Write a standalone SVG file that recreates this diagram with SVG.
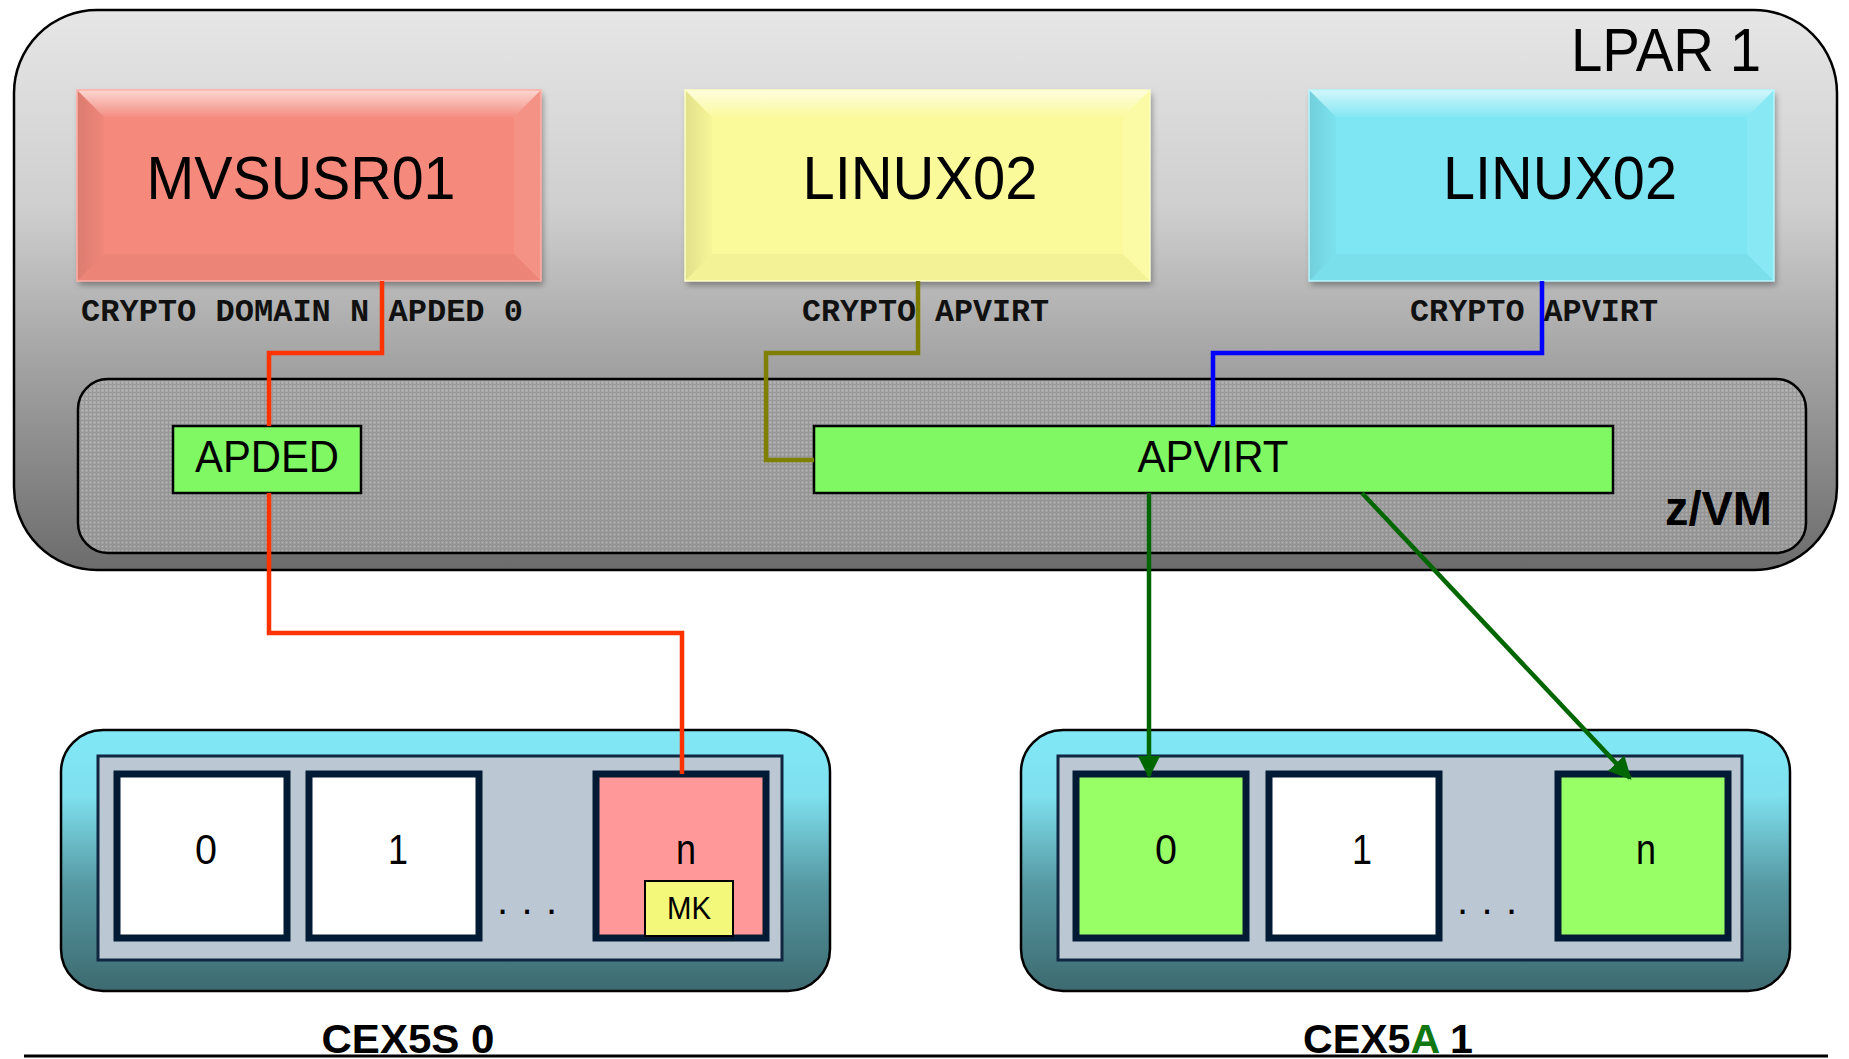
<svg xmlns="http://www.w3.org/2000/svg" width="1849" height="1059" viewBox="0 0 1849 1059">
<defs>
<style>
.lbl{font-family:"Liberation Sans",Arial,sans-serif;fill:#000}
.mono{font-family:"Liberation Mono","Courier New",monospace;font-weight:bold;font-size:31px;fill:#111}
.bold{font-family:"Liberation Sans",Arial,sans-serif;font-weight:bold;fill:#000}
.dom{stroke:#021a33;stroke-width:7}
.panel{fill:#bbc8d3;stroke:#0f2540;stroke-width:3}
.card{stroke:#000;stroke-width:2.5}
.vbox{fill:#80f864;stroke:#000;stroke-width:2.5}
.conn{fill:none;stroke-width:4.5;stroke-linejoin:miter}
</style>
<linearGradient id="lparG" x1="0" y1="0" x2="0" y2="1">
<stop offset="0" stop-color="#e6e6e6"/>
<stop offset="0.35" stop-color="#cfcfcf"/>
<stop offset="0.65" stop-color="#a0a0a0"/>
<stop offset="1" stop-color="#6c6c6c"/>
</linearGradient>
<linearGradient id="zvmG" x1="0" y1="0" x2="0" y2="1">
<stop offset="0" stop-color="#ababab"/>
<stop offset="1" stop-color="#9c9c9c"/>
</linearGradient>
<pattern id="mesh" width="4" height="4" patternUnits="userSpaceOnUse">
<rect width="4" height="4" fill="none"/>
<path d="M0 0.5H4M0.5 0V4" stroke="#8a8a8a" stroke-width="1" opacity="0.55"/>
<rect x="2" y="2" width="1" height="1" fill="#c4c4c4" opacity="0.7"/>
</pattern>
<linearGradient id="cardG" x1="0" y1="0" x2="0" y2="1">
<stop offset="0" stop-color="#82e8f6"/>
<stop offset="0.25" stop-color="#7fe0ee"/>
<stop offset="0.6" stop-color="#5598a2"/>
<stop offset="1" stop-color="#3d6a70"/>
</linearGradient>
<linearGradient id="topG" x1="0" y1="0" x2="0" y2="1">
<stop offset="0" stop-color="#fff" stop-opacity="0.65"/>
<stop offset="1" stop-color="#fff" stop-opacity="0.05"/>
</linearGradient>
<linearGradient id="leftG" x1="0" y1="0" x2="1" y2="0">
<stop offset="0" stop-color="#000" stop-opacity="0.1"/>
<stop offset="1" stop-color="#000" stop-opacity="0.02"/>
</linearGradient>
<filter id="shadow" x="-10%" y="-10%" width="120%" height="130%">
<feDropShadow dx="2" dy="4" stdDeviation="3" flood-color="#000" flood-opacity="0.35"/>
</filter>
<marker id="arr" viewBox="0 0 10 10" refX="9" refY="5" markerWidth="5" markerHeight="5" orient="auto" markerUnits="strokeWidth">
<path d="M0 0L10 5L0 10z" fill="#006600"/>
</marker>
</defs>

<g id="lpar">
<rect x="14" y="10" width="1823" height="560" rx="83" ry="83" fill="url(#lparG)" stroke="#000" stroke-width="2.5"/>
<text class="lbl" x="1761" y="71" font-size="62" text-anchor="end" textLength="190" lengthAdjust="spacingAndGlyphs">LPAR 1</text>
</g>

<g id="zvm">
<rect x="78" y="379" width="1728" height="174" rx="30" ry="30" fill="url(#zvmG)"/>
<rect x="78" y="379" width="1728" height="174" rx="30" ry="30" fill="url(#mesh)" stroke="#000" stroke-width="2.5"/>
<text class="bold" x="1772" y="525" font-size="48" text-anchor="end" textLength="107" lengthAdjust="spacingAndGlyphs">z/VM</text>
</g>

<g id="mvsusr01">
<g filter="url(#shadow)">
<rect x="77" y="90" width="464" height="191" fill="#f4897c"/>
</g>
<polygon points="77,90 541,90 514,117 104,117" fill="url(#topG)"/>
<polygon points="77,90 104,117 104,254 77,281" fill="url(#leftG)"/>
<polygon points="541,90 541,281 514,254 514,117" fill="#fff" opacity="0.08"/>
<polygon points="77,281 104,254 514,254 541,281" fill="#000" opacity="0.03"/>
<rect x="77" y="90" width="464" height="191" fill="none" stroke="#ffb0a6" stroke-width="1.5"/>
<text class="lbl" x="301" y="199" font-size="62" text-anchor="middle" textLength="309" lengthAdjust="spacingAndGlyphs">MVSUSR01</text>
<text class="mono" x="81" y="321" textLength="442" lengthAdjust="spacingAndGlyphs">CRYPTO DOMAIN N APDED 0</text>
</g>

<g id="linux02a">
<g filter="url(#shadow)">
<rect x="685" y="90" width="465" height="191" fill="#fbfa9b"/>
</g>
<polygon points="685,90 1150,90 1123,117 712,117" fill="url(#topG)"/>
<polygon points="685,90 712,117 712,254 685,281" fill="url(#leftG)"/>
<polygon points="1150,90 1150,281 1123,254 1123,117" fill="#fff" opacity="0.1"/>
<polygon points="685,281 712,254 1123,254 1150,281" fill="#000" opacity="0.03"/>
<rect x="685" y="90" width="465" height="191" fill="none" stroke="#ffffc8" stroke-width="1.5"/>
<text class="lbl" x="920" y="199" font-size="62" text-anchor="middle" textLength="235" lengthAdjust="spacingAndGlyphs">LINUX02</text>
<text class="mono" x="802" y="321" textLength="247" lengthAdjust="spacingAndGlyphs">CRYPTO APVIRT</text>
</g>

<g id="linux02b">
<g filter="url(#shadow)">
<rect x="1309" y="90" width="465" height="191" fill="#7ee6f3"/>
</g>
<polygon points="1309,90 1774,90 1747,117 1336,117" fill="url(#topG)"/>
<polygon points="1309,90 1336,117 1336,254 1309,281" fill="url(#leftG)"/>
<polygon points="1774,90 1774,281 1747,254 1747,117" fill="#fff" opacity="0.08"/>
<polygon points="1309,281 1336,254 1747,254 1774,281" fill="#000" opacity="0.03"/>
<rect x="1309" y="90" width="465" height="191" fill="none" stroke="#b8f8ff" stroke-width="1.5"/>
<text class="lbl" x="1560" y="199" font-size="62" text-anchor="middle" textLength="234" lengthAdjust="spacingAndGlyphs">LINUX02</text>
<text class="mono" x="1410" y="321" textLength="248" lengthAdjust="spacingAndGlyphs">CRYPTO APVIRT</text>
</g>

<g id="apded">
<rect class="vbox" x="173" y="426" width="188" height="67"/>
<text class="lbl" x="267" y="472" font-size="45" text-anchor="middle" textLength="144" lengthAdjust="spacingAndGlyphs">APDED</text>
</g>

<g id="apvirt">
<rect class="vbox" x="814" y="426" width="799" height="67"/>
<text class="lbl" x="1213" y="472" font-size="45" text-anchor="middle" textLength="151" lengthAdjust="spacingAndGlyphs">APVIRT</text>
</g>

<g id="cex5s0">
<rect class="card" x="61" y="730" width="769" height="261" rx="42" ry="42" fill="url(#cardG)"/>
<rect class="panel" x="98" y="756" width="684" height="204"/>
<rect class="dom" x="117" y="774" width="170" height="164" fill="#fff"/>
<rect class="dom" x="309" y="774" width="170" height="164" fill="#fff"/>
<rect class="dom" x="596" y="774" width="170" height="164" fill="#ff9999"/>
<rect x="645" y="881" width="88" height="55" fill="#f3f87a" stroke="#000" stroke-width="2"/>
<text class="lbl" x="206" y="864" font-size="42" text-anchor="middle" textLength="22" lengthAdjust="spacingAndGlyphs">0</text>
<text class="lbl" x="398" y="864" font-size="42" text-anchor="middle" textLength="20" lengthAdjust="spacingAndGlyphs">1</text>
<text class="lbl" x="686" y="864" font-size="42" text-anchor="middle" textLength="20" lengthAdjust="spacingAndGlyphs">n</text>
<text class="lbl" x="689" y="919" font-size="31" text-anchor="middle" textLength="44" lengthAdjust="spacingAndGlyphs">MK</text>
<text class="lbl" x="527" y="914" font-size="40" text-anchor="middle" textLength="60" lengthAdjust="spacing">. . .</text>
<text class="bold" x="408" y="1053" font-size="40" text-anchor="middle" textLength="173" lengthAdjust="spacingAndGlyphs">CEX5S 0</text>
</g>

<g id="cex5a1">
<rect class="card" x="1021" y="730" width="769" height="261" rx="42" ry="42" fill="url(#cardG)"/>
<rect class="panel" x="1058" y="756" width="684" height="204"/>
<rect class="dom" x="1076" y="774" width="170" height="164" fill="#99ff66"/>
<rect class="dom" x="1269" y="774" width="170" height="164" fill="#fff"/>
<rect class="dom" x="1558" y="774" width="170" height="164" fill="#99ff66"/>
<text class="lbl" x="1166" y="864" font-size="42" text-anchor="middle" textLength="22" lengthAdjust="spacingAndGlyphs">0</text>
<text class="lbl" x="1362" y="864" font-size="42" text-anchor="middle" textLength="20" lengthAdjust="spacingAndGlyphs">1</text>
<text class="lbl" x="1646" y="864" font-size="42" text-anchor="middle" textLength="20" lengthAdjust="spacingAndGlyphs">n</text>
<text class="lbl" x="1487" y="914" font-size="40" text-anchor="middle" textLength="60" lengthAdjust="spacing">. . .</text>
<text class="bold" x="1388" y="1053" font-size="40" text-anchor="middle" textLength="170" lengthAdjust="spacingAndGlyphs">CEX5<tspan fill="#117711">A</tspan> 1</text>
</g>

<g id="connectors">
<polyline class="conn" stroke="#ff3300" points="382,281 382,353 269,353 269,426"/>
<polyline class="conn" stroke="#ff3300" points="269,493 269,633 682,633 682,774"/>
<polyline class="conn" stroke="#808000" points="918,281 918,353 766,353 766,460 814,460"/>
<polyline class="conn" stroke="#0000ff" points="1542,281 1542,353 1213,353 1213,426"/>
<line class="conn" stroke="#006600" x1="1149" y1="493" x2="1149" y2="776" marker-end="url(#arr)"/>
<line class="conn" stroke="#006600" x1="1362" y1="493" x2="1630" y2="778" marker-end="url(#arr)"/>
<line x1="24" y1="1056" x2="1828" y2="1056" stroke="#000" stroke-width="3"/>
</g>
</svg>
